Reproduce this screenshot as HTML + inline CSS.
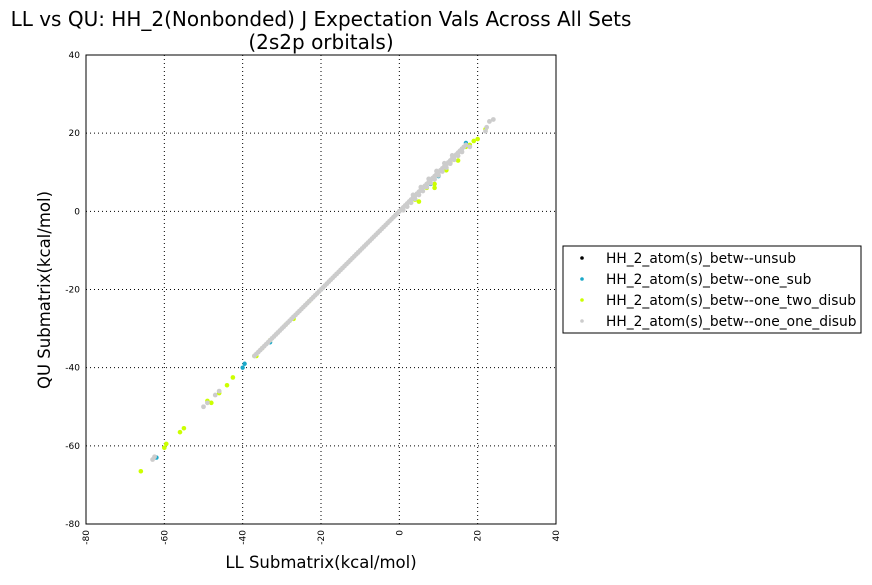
<!DOCTYPE html>
<html><head><meta charset="utf-8">
<style>
body{margin:0;background:#fff;width:872px;height:581px;overflow:hidden;font-family:"DejaVu Sans","Liberation Sans",sans-serif;}
svg text{font-family:"DejaVu Sans","Liberation Sans",sans-serif;}
</style></head>
<body>
<svg id="chart" width="872" height="581" xmlns="http://www.w3.org/2000/svg">
<text x="321" y="26" font-size="20" text-anchor="middle">LL vs QU: HH_2(Nonbonded) J Expectation Vals Across All Sets</text>
<text x="321" y="49" font-size="20" text-anchor="middle">(2s2p orbitals)</text>
<g id="grid"></g>
<g id="marks"></g>
<rect x="86" y="55" width="470" height="469" fill="none" stroke="#000" stroke-width="1"/>
<g id="ticks"></g>
<text x="321" y="568" font-size="16.5" text-anchor="middle">LL Submatrix(kcal/mol)</text>
<text transform="translate(50,290) rotate(-90)" font-size="16.5" text-anchor="middle">QU Submatrix(kcal/mol)</text>
<g>
<rect x="563" y="246" width="298" height="87" fill="#fff" stroke="#000"/>
<circle cx="582" cy="258" r="1.8" fill="#000"/>
<text x="606" y="263" font-size="13.8">HH_2_atom(s)_betw--unsub</text>
<circle cx="582" cy="279" r="1.8" fill="#1aa8c8"/>
<text x="606" y="284" font-size="13.8">HH_2_atom(s)_betw--one_sub</text>
<circle cx="582" cy="300" r="1.8" fill="#ccff00"/>
<text x="606" y="305" font-size="13.8">HH_2_atom(s)_betw--one_two_disub</text>
<circle cx="582" cy="321" r="1.8" fill="#cccccc"/>
<text x="606" y="326" font-size="13.8">HH_2_atom(s)_betw--one_one_disub</text>
</g>
</svg>
<script>
const xTicks=[-80,-60,-40,-20,0,20,40];
const yTicks=[-80,-60,-40,-20,0,20,40];
const grayX=[-63,-62.5,-50,-49,-47,-46,-37,-36.5,-36,-35.5,-35,-34.5,-34,-33.5,-33,-32.5,-32,-31.5,-31,-30.5,-30,-29.5,-29,-28.5,-28,-27.5,-27,-26.5,-26,-25.5,-25,-24.5,-24,-23.5,-23,-22.5,-22,-21.5,-21,-20.5,-20,-19.5,-19,-18.5,-18,-17.5,-17,-16.5,-16,-15.5,-15,-14.5,-14,-13.5,-13,-12.5,-12,-11.5,-11,-10.5,-10,-9.5,-9,-8.5,-8,-7.5,-7,-6.5,-6,-5.5,-5,-4.5,-4,-3.5,-3,-2.5,-2,-1.5,-1,-0.5,0,0.5,1,1.5,2,2.5,3,3.5,4,4.5,5,5.5,6,6.5,7,7.5,8,8.5,9,9.5,10,10.5,11,11.5,12,12.5,13,13.5,14,14.5,15,15.5,16,16.5,17,1,2,3,4,5,6,7,8,9,10,11,12,13,14,15,16,3.5,5.5,7.5,9.5,11.5,13.5,18,22,22.3,23,24];
const grayY=[-63.5,-62.8,-50,-49,-47,-46,-37,-36.5,-36,-35.5,-35,-34.5,-34,-33.5,-33,-32.5,-32,-31.5,-31,-30.5,-30,-29.5,-29,-28.5,-28,-27.5,-27,-26.5,-26,-25.5,-25,-24.5,-24,-23.5,-23,-22.5,-22,-21.5,-21,-20.5,-20,-19.5,-19,-18.5,-18,-17.5,-17,-16.5,-16,-15.5,-15,-14.5,-14,-13.5,-13,-12.5,-12,-11.5,-11,-10.5,-10,-9.5,-9,-8.5,-8,-7.5,-7,-6.5,-6,-5.5,-5,-4.5,-4,-3.5,-3,-2.5,-2,-1.5,-1,-0.5,0,0.5,1,1.5,2,2.5,3,3.5,4,4.5,5,5.5,6,6.5,7,7.5,8,8.5,9,9.5,10,10.5,11,11.5,12,12.5,13,13.5,14,14.5,15,15.5,16,16.5,17,0.3,1.2,2.2,3.2,4.2,5.2,6.2,7.2,8.2,9.2,10.2,11.2,12.2,13.2,14.2,15.2,4.2,6.2,8.3,10.3,12.3,14.3,16.5,20.5,21.5,23,23.5];
const yellowX=[-66,-60,-59.5,-56,-55,-49,-48,-46,-44,-42.5,-37,-36.5,-35,-33,-29,-27,-23,4,5,7,9,9,12,13,15,17,18,19,20,22];
const yellowY=[-66.5,-60.5,-59.5,-56.5,-55.5,-48.5,-49,-46.5,-44.5,-42.5,-37,-37,-35,-33,-29,-27.5,-23,3,2.5,6,6,7,10.5,12.5,13,16.5,17,18,18.5,21];
const cyanX=[-62,-40,-39.5,-33,-27,-20,8,10,12,16,17];
const cyanY=[-63,-40,-39,-33.5,-27,-20,7,9,11,16,17.5];
const blackX=[-20,0];
const blackY=[-20,0];
const NS="http://www.w3.org/2000/svg";
const X0=86,X1=556,Y0=524,Y1=55,MIN=-80,MAX=40;
function sx(v){return X0+(v-MIN)/(MAX-MIN)*(X1-X0);}
function sy(v){return Y0-(v-MIN)/(MAX-MIN)*(Y0-Y1);}
const grid=document.getElementById('grid'),ticks=document.getElementById('ticks'),marks=document.getElementById('marks');
xTicks.forEach(t=>{
  const x=sx(t);
  if(t>MIN&&t<MAX){
    const l=document.createElementNS(NS,'line');
    
    
    l.setAttribute('x1',x);l.setAttribute('x2',x);l.setAttribute('y1',Y1);l.setAttribute('y2',Y0);
    l.setAttribute('stroke','#000');l.setAttribute('stroke-dasharray','1,3');l.setAttribute('stroke-width','1');
    grid.appendChild(l);
  }
  const tx=document.createElementNS(NS,'text');
  
  
  tx.setAttribute('transform','translate('+(x+3)+','+(Y0+6)+') rotate(-90)');
  tx.setAttribute('font-size','9');tx.setAttribute('text-anchor','end');
  tx.textContent=t;ticks.appendChild(tx);
});
yTicks.forEach(t=>{
  const y=sy(t);
  if(t>MIN&&t<MAX){
    const l=document.createElementNS(NS,'line');
    
    
    l.setAttribute('x1',X0);l.setAttribute('x2',X1);l.setAttribute('y1',y);l.setAttribute('y2',y);
    l.setAttribute('stroke','#000');l.setAttribute('stroke-dasharray','1,3');l.setAttribute('stroke-width','1');
    grid.appendChild(l);
  }
  const tx=document.createElementNS(NS,'text');
  
  
  tx.setAttribute('x',X0-6);tx.setAttribute('y',y+3);
  tx.setAttribute('font-size','9');tx.setAttribute('text-anchor','end');
  tx.textContent=t;ticks.appendChild(tx);
});
function series(xs,ys,color,name,r){
  xs.forEach((v,i)=>{
    const c=document.createElementNS(NS,'circle');
    
    
    c.setAttribute('cx',sx(v));c.setAttribute('cy',sy(ys[i]));c.setAttribute('r',r);c.setAttribute('fill',color);
    marks.appendChild(c);
  });
}
series(blackX,blackY,'#000','point-unsub',2);
series(cyanX,cyanY,'#1aa8c8','point-one-sub',2.2);
series(yellowX,yellowY,'#ccff00','point-one-two-disub',2.3);
series(grayX,grayY,'#cccccc','point-one-one-disub',2.4);
</script>
</body></html>
